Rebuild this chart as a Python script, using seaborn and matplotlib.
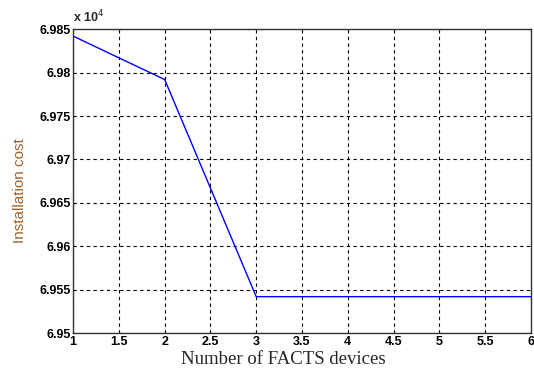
import pandas as pd
import seaborn as sns
import matplotlib.pyplot as plt
from matplotlib.ticker import FuncFormatter, MultipleLocator

# Installation cost vs number of FACTS devices
n_devices = [1, 2, 3, 4, 5, 6]
install_cost = [69842, 69792, 69542, 69542, 69542, 69542]

data = pd.DataFrame({"devices": n_devices, "cost": install_cost})

sns.set_style("white")
plt.rcParams["font.family"] = ["Liberation Sans", "DejaVu Sans"]

fig = plt.figure(figsize=(5.34, 3.79), dpi=100)
ax = fig.add_axes([0.137, 0.121, 0.857, 0.802])

sns.lineplot(data=data, x="devices", y="cost", color="blue", linewidth=1.0, ax=ax)

ax.set_xlim(1, 6)
ax.set_ylim(69500, 69850)
ax.xaxis.set_major_locator(MultipleLocator(0.5))
ax.yaxis.set_major_locator(MultipleLocator(50))
ax.xaxis.set_major_formatter(FuncFormatter(lambda v, p: f"{v:g}"))
ax.yaxis.set_major_formatter(FuncFormatter(lambda v, p: f"{v / 1e4:g}"))

ax.grid(True, linestyle=(0, (3, 3)), color="black", linewidth=0.8)
ax.tick_params(direction="in", length=4, labelsize=9, colors="black")
ax.tick_params(axis="x", pad=2)
ax.tick_params(axis="y", pad=2)
for lab in ax.get_xticklabels() + ax.get_yticklabels():
    lab.set_fontweight("bold")
for sp in ax.spines.values():
    sp.set_color("#333333")
    sp.set_linewidth(1.0)

ax.text(0.0, 1.012, r"x 10$^4$", transform=ax.transAxes, fontsize=9,
        fontweight="bold", ha="left", va="bottom")

ax.set_xlabel("Number of FACTS devices", family=["Liberation Serif", "DejaVu Serif"],
              fontsize=13.5)
ax.xaxis.set_label_coords(0.459, -0.06, transform=ax.transAxes)
ax.xaxis.label.set_va("top")
ax.set_ylabel("Installation cost", color="#a0622a", fontsize=11)
ax.yaxis.set_label_coords(-0.116, 0.47, transform=ax.transAxes)
ax.yaxis.label.set_va("center")

fig.savefig("out.png", dpi=100)
